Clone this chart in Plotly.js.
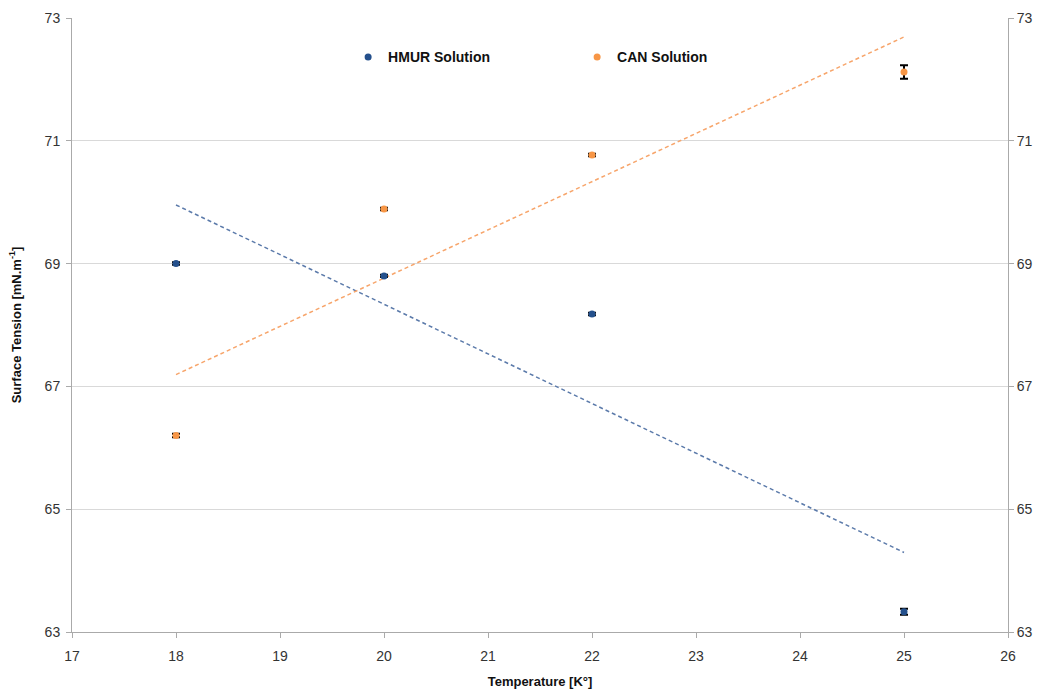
<!DOCTYPE html>
<html><head><meta charset="utf-8">
<script src="https://cdn.plot.ly/plotly-3.0.1.min.js"></script>
<style>html,body{margin:0;padding:0;background:#fff}#chart{width:1046px;height:689px}</style>
</head><body><div id="chart"></div>
<script>
const temperatures = [18, 20, 22, 25];
const hmurValues = [69.0, 68.8, 68.18, 63.33];
const hmurErrors = [0.02, 0.02, 0.02, 0.05];
const canValues = [66.2, 69.89, 70.77, 72.12];
const canErrors = [0.03, 0.02, 0.02, 0.11];
const seriesNames = ['HMUR Solution', 'CAN Solution'];
const yTicks = [63, 65, 67, 69, 71, 73];
const xTicks = [17, 18, 19, 20, 21, 22, 23, 24, 25, 26];

function linearFit(xs, ys) {
  const n = xs.length;
  const mx = xs.reduce((a, b) => a + b, 0) / n;
  const my = ys.reduce((a, b) => a + b, 0) / n;
  let sxy = 0, sxx = 0;
  for (let i = 0; i < n; i++) { sxy += (xs[i] - mx) * (ys[i] - my); sxx += (xs[i] - mx) ** 2; }
  const m = sxy / sxx, b = my - m * mx;
  const x0 = Math.min(...xs), x1 = Math.max(...xs);
  return { x: [x0, x1], y: [m * x0 + b, m * x1 + b] };
}
const hmurFit = linearFit(temperatures, hmurValues);
const canFit = linearFit(temperatures, canValues);

const blue = '#24508c', orange = '#f79646';
const font = 'Liberation Sans, Noto Sans, sans-serif';

const traces = [
  { x: hmurFit.x, y: hmurFit.y, mode: 'lines', line: { color: '#5b7aaa', width: 1.5, dash: '4px,3px' }, showlegend: false, hoverinfo: 'skip' },
  { x: canFit.x, y: canFit.y, mode: 'lines', line: { color: '#f7a56b', width: 1.5, dash: '4px,3px' }, showlegend: false, hoverinfo: 'skip' },
  { x: temperatures, y: hmurValues, name: seriesNames[0], mode: 'markers',
    marker: { color: blue, size: 7 },
    error_y: { type: 'data', array: hmurErrors, color: '#000', thickness: 2, width: 4 } },
  { x: temperatures, y: canValues, name: seriesNames[1], mode: 'markers',
    marker: { color: orange, size: 7 },
    error_y: { type: 'data', array: canErrors, color: '#000', thickness: 2, width: 4 } },
  { x: temperatures, y: canValues, yaxis: 'y2', mode: 'markers', marker: { opacity: 0 }, showlegend: false, hoverinfo: 'skip' }
];

const layout = {
  width: 1046, height: 689,
  margin: { l: 72, r: 38, t: 18, b: 57 },
  paper_bgcolor: '#fff', plot_bgcolor: '#fff',
  font: { family: font, size: 14, color: '#333' },
  showlegend: true,
  legend: { orientation: 'h', x: 0.295, y: 0.962, xanchor: 'left', yanchor: 'top',
    entrywidth: 184, entrywidthmode: 'pixels', itemwidth: 30,
    font: { family: font, size: 14, color: '#111', weight: 'bold' }, bgcolor: 'rgba(0,0,0,0)' },
  xaxis: { range: [17, 26], tickvals: xTicks, ticks: 'outside', ticklen: 5, tickcolor: '#aaa',
    showgrid: false, zeroline: false, showline: true, linecolor: '#aaa', linewidth: 1,
    ticklabelstandoff: 6,
    tickfont: { family: font, size: 14, color: '#333' },
    title: { text: 'Temperature [K°]', font: { family: font, size: 13, color: '#111', weight: 'bold' }, standoff: 14 } },
  yaxis: { range: [63, 73], tickvals: yTicks, ticks: 'outside', ticklen: 5, tickcolor: '#aaa',
    showgrid: true, gridcolor: '#d9d9d9', gridwidth: 1, zeroline: false, showline: true, linecolor: '#aaa', linewidth: 1,
    ticklabelstandoff: 3,
    tickfont: { family: font, size: 14, color: '#333' },
    title: { text: 'Surface Tension [mN.m<sup>-1</sup>]', font: { family: font, size: 13, color: '#111', weight: 'bold' }, standoff: 20 } },
  yaxis2: { range: [63, 73], tickvals: yTicks, overlaying: 'y', side: 'right', ticks: 'outside', ticklen: 5, tickcolor: '#aaa',
    showgrid: false, zeroline: false, showline: true, linecolor: '#aaa', linewidth: 1,
    tickfont: { family: font, size: 14, color: '#333' } }
};

Plotly.newPlot('chart', traces, layout, { displayModeBar: false, staticPlot: true });
</script></body></html>
